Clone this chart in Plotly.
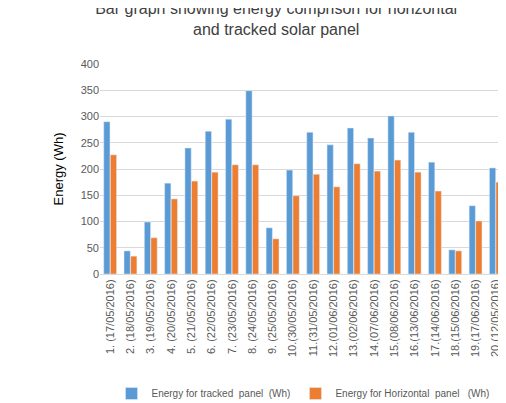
import plotly.graph_objects as go

categories = ["1. (17/05/2016)","2. (18/05/2016)","3. (19/05/2016)","4. (20/05/2016)","5. (21/05/2016)",
              "6. (22/05/2016)","7. (23/05/2016)","8. (24/05/2016)","9. (25/05/2016)","10.(30/05/2016)",
              "11.(31/05/2016)","12.(01/06/2016)","13.(02/06/2016)","14.(07/06/2016)","15.(08/06/2016)",
              "16.(13/06/2016)","17.(14/06/2016)","18.(15/06/2016)","19.(17/06/2016)","20.(12/05/2016)"]
tracked = [290, 44, 99, 173, 240, 272, 295, 349, 88, 198, 270, 246, 278, 259, 301, 270, 213, 46, 130, 202]
horizontal = [227, 34, 69, 143, 177, 194, 208, 208, 67, 149, 190, 166, 210, 196, 217, 194, 158, 44, 101, 175]

fig = go.Figure()
fig.add_bar(x=categories, y=tracked, name="Energy for tracked  panel  (Wh)", marker_color="#5B9BD5")
fig.add_bar(x=categories, y=horizontal, name="Energy for Horizontal  panel   (Wh)", marker_color="#ED7D31")
fig.update_layout(
    width=506, height=403, paper_bgcolor="white", plot_bgcolor="white",
    font=dict(family="Liberation Sans", color="#595959", size=11),
    title=dict(text="Bar graph showing energy comprison for horizontal<br>and tracked solar panel",
               x=0.53, xanchor="center", y=0.985, yanchor="top",
               font=dict(size=16, color="#404040")),
    margin=dict(l=92, r=8, t=56, b=137, autoexpand=False),
    bargap=0.35, bargroupgap=0.05,
    legend=dict(orientation="h", x=0.5, xanchor="center", y=-0.5, yanchor="top", font=dict(size=10)),
    xaxis=dict(tickangle=-90, tickfont=dict(size=11), showline=True, linecolor="#D9D9D9", automargin=False),
    yaxis=dict(range=[0, 400], dtick=50, gridcolor="#D9D9D9", zeroline=False, automargin=False,
               title=dict(text="Energy (Wh)", font=dict(size=13, color="#000000"), standoff=14)),
)
fig.write_html("out.html")
